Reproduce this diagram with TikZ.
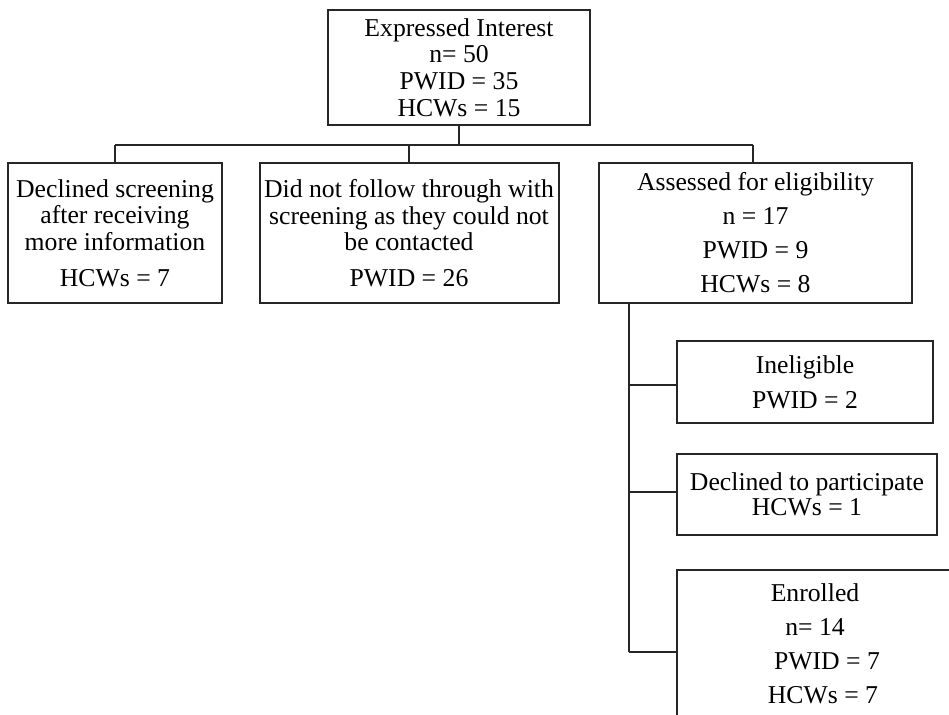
\documentclass[tikz,border=0pt]{standalone}
\usepackage{fontspec}
\setmainfont{Liberation Serif}
\newcommand{\boxfont}{\fontsize{12.85}{13.3}\selectfont}
\begin{document}
\begin{tikzpicture}[x=0.5pt,y=-0.5pt,
  box/.style={draw=black!85, line width=1pt, rectangle, inner sep=0pt, align=center, font=\boxfont},
  conn/.style={draw=black!85, line width=1pt}]
\useasboundingbox (0,0) rectangle (949,714);
\fill[white] (0,0) rectangle (949,714);

\node[box, minimum width=131pt, minimum height=57.5pt] (top) at (459,67.5)
  {Expressed Interest\\ n= 50\\ PWID = 35\\ HCWs = 15};
\node[box, minimum width=107pt, minimum height=70pt] (left) at (115,233)
  {Declined screening\\ after receiving\\ more information\\[4.5pt] HCWs = 7};
\node[box, minimum width=149.5pt, minimum height=70pt] (mid) at (409,233)
  {Did not follow through with\\ screening as they could not\\ be contacted\\[4.5pt] PWID = 26};
\node[box, minimum width=156.5pt, minimum height=70pt] (right) at (755.5,233)
  {Assessed for eligibility\\[3.7pt] n = 17\\[3.7pt] PWID = 9\\[3.7pt] HCWs = 8};
\node[box, minimum width=128pt, minimum height=41pt] (inel) at (805,382)
  {Ineligible\\[4pt] PWID = 2};
\node[box, minimum width=130pt, minimum height=40.5pt] (decl) at (807,494.5)
  {Declined to participate\\[-0.8pt] HCWs = 1};
\node[box, minimum width=138pt, minimum height=74pt] (enr) at (815,644)
  {Enrolled\\[3.7pt] n= 14\\[3.7pt] \hspace*{12pt}PWID = 7\\[3.7pt] \hspace*{8pt}HCWs = 7};

\coordinate (bus) at (0,145);
\draw[conn] (top.south) -- (top.south |- bus);
\draw[conn] (left.north |- bus) -- ([xshift=-1.25pt]right.north |- bus);
\draw[conn] (left.north |- bus) -- (left.north);
\draw[conn] (mid.north |- bus) -- (mid.north);
\draw[conn] ([xshift=-1.25pt]right.north |- bus) -- ([xshift=-1.25pt]right.north);

\coordinate (sp) at ([xshift=15.5pt]right.south west);
\coordinate (eb) at ([yshift=-4pt]enr.west);
\draw[conn] (sp) -- (sp |- eb);
\draw[conn] ([yshift=-1.5pt]inel.west -| sp) -- ([yshift=-1.5pt]inel.west);
\draw[conn] ([yshift=1.25pt]decl.west -| sp) -- ([yshift=1.25pt]decl.west);
\draw[conn] (eb -| sp) -- (eb);
\end{tikzpicture}
\end{document}
